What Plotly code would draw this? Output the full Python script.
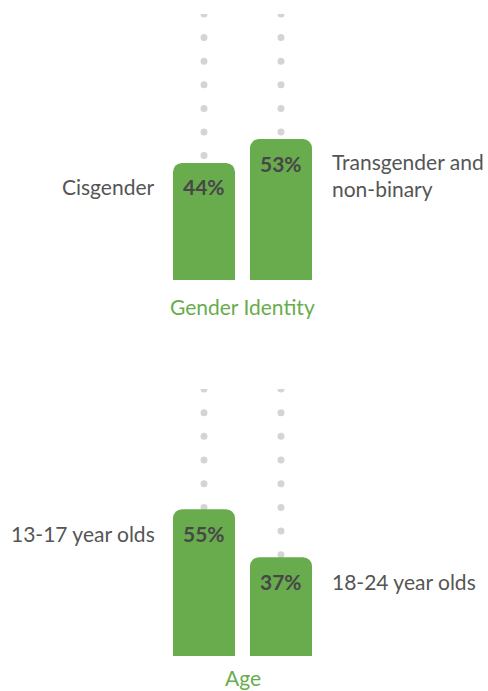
import numpy as np
import plotly.graph_objects as go
from plotly.subplots import make_subplots

# data
panel_titles = ["Gender Identity", "Age"]
gender_labels = ["Cisgender", "Transgender and<br>non-binary"]
gender_values = [44, 53]
age_labels = ["13-17 year olds", "18-24 year olds"]
age_values = [55, 37]

GREEN = "#68ac4e"
DOT = "#d4d4d4"
LABEL = "#555555"
VALUE = "#474747"
FONT = "Lato"

fig = make_subplots(rows=2, cols=1)

panels = [(gender_labels, gender_values), (age_labels, age_values)]
# y domains in paper fraction (page height 691, no margins)
domains = [[(691 - 280) / 691, (691 - 14) / 691], [(691 - 656) / 691, (691 - 389) / 691]]
title_shift = [-12, -7]
dot_steps = np.arange(100, 0, -8.87)

for i, (labels, values) in enumerate(panels):
    row = i + 1
    cats = [0, 1]
    fig.add_trace(go.Bar(x=cats, y=values, width=0.805, marker_color=GREEN,
                         marker_line_width=0, hoverinfo="skip", showlegend=False),
                  row=row, col=1)
    xref = "x" if i == 0 else "x2"
    yref = "y" if i == 0 else "y2"
    # dotted guide lines behind the bars
    for c in cats:
        for d in dot_steps:
            fig.add_shape(type="circle", xref=xref, yref=yref, xsizemode="pixel",
                          ysizemode="pixel", xanchor=c, yanchor=d, x0=-3.5, x1=3.5,
                          y0=-3.5, y1=3.5, fillcolor=DOT, line_width=0, layer="below")
    # value labels inside the bars
    for c, v in zip(cats, values):
        fig.add_annotation(x=c, y=v, xref=xref, yref=yref, text="<b>%d%%</b>" % v,
                           showarrow=False, yshift=-24, yanchor="middle",
                           font=dict(family=FONT, size=21, color=VALUE))
    # side labels
    fig.add_annotation(x=0, y=values[0], xref=xref, yref=yref, text=labels[0],
                       showarrow=False, xanchor="right", xshift=-47, yshift=-24,
                       yanchor="middle", font=dict(family=FONT, size=21, color=LABEL))
    two_line = "<br>" in labels[1]
    fig.add_annotation(x=1, y=values[1], xref=xref, yref=yref, text=labels[1],
                       showarrow=False, xanchor="left", xshift=49,
                       yshift=-8 if two_line else -24,
                       yanchor="top" if two_line else "middle", align="left",
                       font=dict(family=FONT, size=21, color=LABEL))
    # panel title
    fig.add_annotation(x=0.5, y=0, xref=xref, yref=yref, text=panel_titles[i],
                       showarrow=False, yanchor="top", yshift=title_shift[i],
                       font=dict(family=FONT, size=21, color=GREEN))

    fig.update_xaxes(range=[-204 / 77, (488 - 204) / 77], domain=[0, 1],
                     visible=False, row=row, col=1)
    fig.update_yaxes(range=[0, 100], domain=domains[i], visible=False, row=row, col=1)

fig.update_layout(width=488, height=691, margin=dict(l=0, r=0, t=0, b=0),
                  paper_bgcolor="white", plot_bgcolor="white", barcornerradius=9,
                  font=dict(family=FONT))

fig.write_html("out.html", config={"displayModeBar": False},
               post_script="document.body.style.margin='0';document.body.style.overflow='hidden';")
